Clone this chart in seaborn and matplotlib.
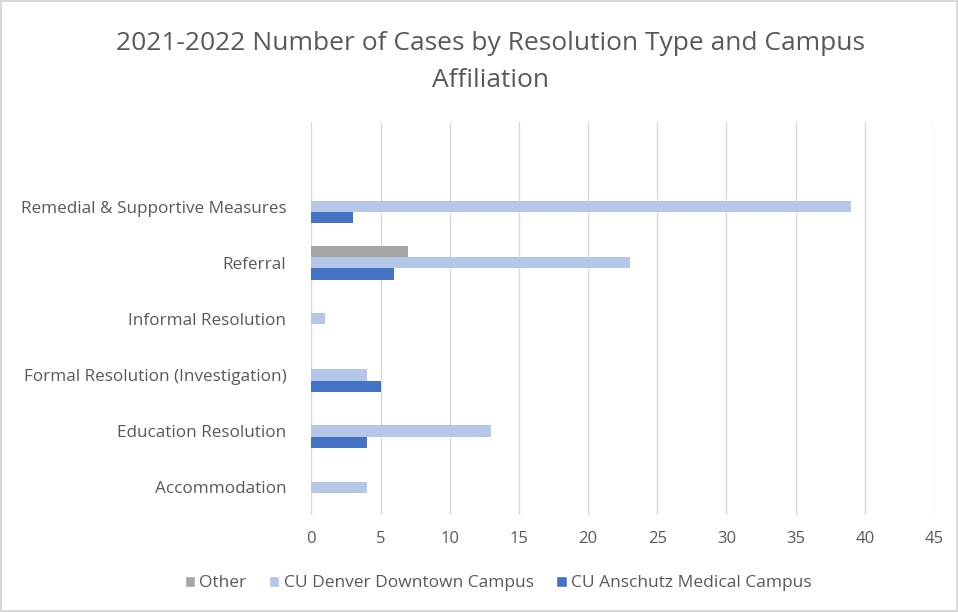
import pandas as pd
import matplotlib.pyplot as plt
import seaborn as sns
from matplotlib.patches import Patch

# categories, top to bottom as shown
categories = ['Remedial & Supportive Measures', 'Referral', 'Informal Resolution',
              'Formal Resolution (Investigation)', 'Education Resolution', 'Accommodation']
series = ['Other', 'CU Denver Downtown Campus', 'CU Anschutz Medical Campus']
other = [0, 7, 0, 0, 0, 0]
denver = [39, 23, 1, 4, 13, 4]
anschutz = [3, 6, 0, 5, 4, 0]
colors = ['#A5A5A5', '#B4C7E7', '#4472C4']

rows = []
for name, vals in zip(series, [other, denver, anschutz]):
    for cat, v in zip(categories, vals):
        rows.append({'Resolution': cat, 'Campus': name, 'Cases': v})
df = pd.DataFrame(rows)

sns.set_style('white')
plt.rcParams['font.family'] = ['Open Sans', 'DejaVu Sans']
text_col = '#595959'

fig = plt.figure(figsize=(9.58, 6.12), dpi=100, edgecolor='#D9D9D9', linewidth=1.5)
ax = fig.add_axes([0.325, 0.158, 0.65, 0.642])

sns.barplot(data=df, y='Resolution', x='Cases', hue='Campus', order=categories,
            hue_order=series, palette=colors, orient='h', width=0.6,
            saturation=1, linewidth=0, ax=ax, legend=False)

# empty slot above the first category, like the original
ax.set_ylim(5.5, -1.5)
ax.set_xlim(0, 45)
ax.set_xticks(range(0, 46, 5))
ax.grid(axis='x', color='#D9D9D9', linewidth=1)
ax.set_axisbelow(True)
for s in ax.spines.values():
    s.set_visible(False)
ax.set_xlabel('')
ax.set_ylabel('')
ax.tick_params(axis='both', length=0, labelcolor=text_col)
ax.tick_params(axis='x', pad=11, labelsize=12)
ax.tick_params(axis='y', pad=18, labelsize=12.3)

fig.suptitle('2021-2022 Number of Cases by Resolution Type and Campus\nAffiliation',
             x=0.512, y=0.95, fontsize=19, color=text_col, linespacing=1.65)

handles = [Patch(facecolor=c, label=n) for c, n in zip(colors, series)]
fig.legend(handles=handles, loc='center', bbox_to_anchor=(0.52, 0.047), ncol=3,
           frameon=False, fontsize=12.5, labelcolor=text_col, handlelength=0.6,
           handleheight=0.6, handletextpad=0.25, columnspacing=1.3)

fig.savefig('out.png', dpi=100, edgecolor=fig.get_edgecolor())
